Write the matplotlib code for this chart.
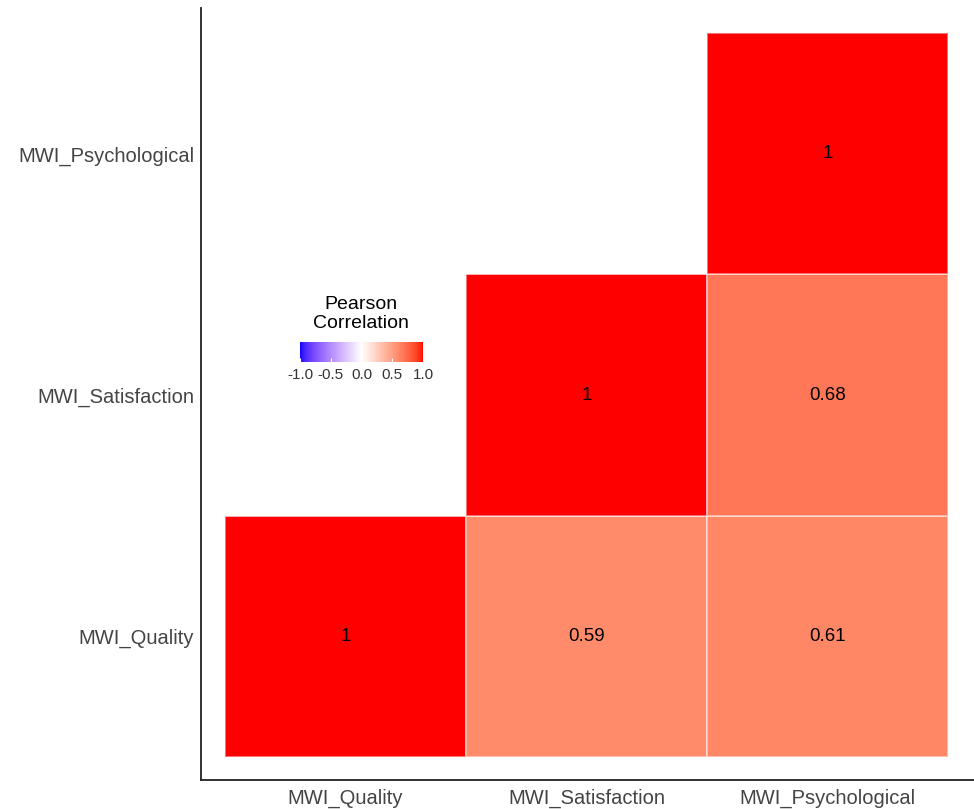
import numpy as np
import matplotlib
matplotlib.use("Agg")
import matplotlib.pyplot as plt
from matplotlib.colors import ListedColormap, Normalize
from matplotlib.cm import ScalarMappable

plt.rcParams['font.family'] = ['Liberation Sans', 'DejaVu Sans']

variables = ["MWI_Quality", "MWI_Satisfaction", "MWI_Psychological"]
# correlation values; rows = y variable, cols = x variable (NaN = hidden)
corr = np.array([
    [1.00, 0.59, 0.61],
    [np.nan, 1.00, 0.68],
    [np.nan, np.nan, 1.00],
])
legend_ticks = [-1.0, -0.5, 0.0, 0.5, 1.0]


# --- diverging blue-white-red palette interpolated in CIELAB ---
def srgb_to_lab(rgb):
    rgb = np.asarray(rgb, float)
    lin = np.where(rgb <= 0.04045, rgb / 12.92, ((rgb + 0.055) / 1.055) ** 2.4)
    M = np.array([[0.4124, 0.3576, 0.1805],
                  [0.2126, 0.7152, 0.0722],
                  [0.0193, 0.1192, 0.9505]])
    xyz = M @ lin
    white = np.array([0.95047, 1.0, 1.08883])
    t = xyz / white
    f = np.where(t > (6 / 29) ** 3, np.cbrt(t), t / (3 * (6 / 29) ** 2) + 4 / 29)
    return np.array([116 * f[1] - 16, 500 * (f[0] - f[1]), 200 * (f[1] - f[2])])


def lab_to_srgb(lab):
    L, a, b = lab
    fy = (L + 16) / 116
    fx = fy + a / 500
    fz = fy - b / 200
    f = np.array([fx, fy, fz])
    t = np.where(f > 6 / 29, f ** 3, 3 * (6 / 29) ** 2 * (f - 4 / 29))
    white = np.array([0.95047, 1.0, 1.08883])
    xyz = t * white
    Minv = np.array([[3.2406, -1.5372, -0.4986],
                     [-0.9689, 1.8758, 0.0415],
                     [0.0557, -0.2040, 1.0570]])
    lin = np.clip(Minv @ xyz, 0, 1)
    rgb = np.where(lin <= 0.0031308, 12.92 * lin, 1.055 * lin ** (1 / 2.4) - 0.055)
    return np.clip(rgb, 0, 1)


lab_blue = srgb_to_lab([0, 0, 1])
lab_white = srgb_to_lab([1, 1, 1])
lab_red = srgb_to_lab([1, 0, 0])
colors = []
for s in np.linspace(-1, 1, 512):
    if s < 0:
        lab = lab_white + (lab_blue - lab_white) * (-s)
    else:
        lab = lab_white + (lab_red - lab_white) * s
    colors.append(lab_to_srgb(lab))
cmap = ListedColormap(colors)
norm = Normalize(-1, 1)

fig = plt.figure(figsize=(9.74, 8.09), dpi=100)
ax = fig.add_axes([201 / 974, 29 / 809, 773 / 974, 772 / 809])

n = len(variables)
xs = np.arange(n + 1) + 0.5
ax.pcolormesh(xs, xs, np.ma.masked_invalid(corr), cmap=cmap, norm=norm,
              edgecolors=(1, 1, 1, 0.45), linewidth=1.2)

for i in range(n):
    for j in range(n):
        v = corr[i, j]
        if np.isnan(v):
            continue
        label = "1" if v == 1 else f"{v:.2f}"
        ax.text(j + 1, i + 1, label, ha="center", va="center",
                fontsize=13.5, color="black")

ax.set_xlim(0.4, 3.608)
ax.set_ylim(0.405, 3.604)
ax.set_xticks(range(1, n + 1))
ax.set_xticklabels(variables, fontsize=14.5, color="#444444")
ax.set_yticks(range(1, n + 1))
ax.set_yticklabels(variables, fontsize=14.5, color="#444444")
ax.tick_params(axis="x", length=0, pad=6)
ax.tick_params(axis="y", length=0, pad=5)
for side in ("top", "right"):
    ax.spines[side].set_visible(False)
for side in ("left", "bottom"):
    ax.spines[side].set_linewidth(1.3)
    ax.spines[side].set_color("#222222")

# colour legend
cax = fig.add_axes([300 / 974, (809 - 362) / 809, 123 / 974, 20 / 809])
cb = fig.colorbar(ScalarMappable(norm=norm, cmap=cmap), cax=cax,
                  orientation="horizontal", ticks=legend_ticks)
cb.outline.set_visible(False)
cb.ax.tick_params(length=3, color="white", width=0.8, direction="in",
                  labelsize=11, pad=4, labelcolor="#333333")
cb.ax.set_xticklabels([f"{t:.1f}" for t in legend_ticks])
fig.text(361 / 974, (809 - 314) / 809, "Pearson\nCorrelation", ha="center",
         va="center", fontsize=14, linespacing=1.12)

fig.savefig("out.png", dpi=100)
